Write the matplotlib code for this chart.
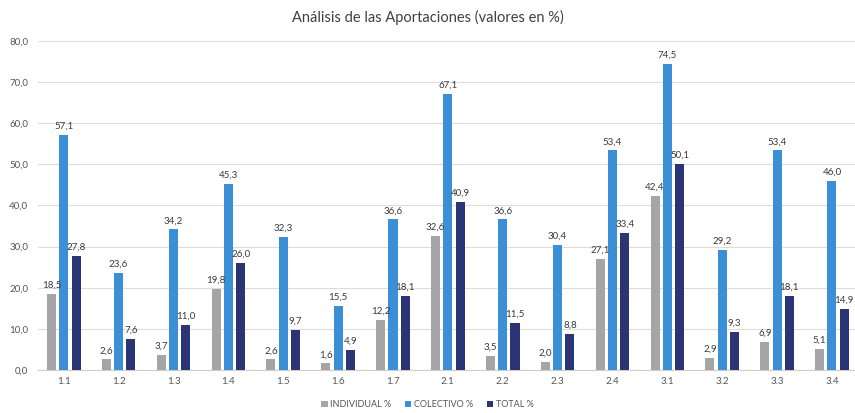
import numpy as np
import matplotlib.pyplot as plt

categorias = ["1.1", "1.2", "1.3", "1.4", "1.5", "1.6", "1.7", "2.1", "2.2", "2.3",
              "2.4", "3.1", "3.2", "3.3", "3.4"]
individual = [18.5, 2.6, 3.7, 19.8, 2.6, 1.6, 12.2, 32.6, 3.5, 2.0, 27.1, 42.4, 2.9, 6.9, 5.1]
colectivo = [57.1, 23.6, 34.2, 45.3, 32.3, 15.5, 36.6, 67.1, 36.6, 30.4, 53.4, 74.5, 29.2, 53.4, 46.0]
total = [27.8, 7.6, 11.0, 26.0, 9.7, 4.9, 18.1, 40.9, 11.5, 8.8, 33.4, 50.1, 9.3, 18.1, 14.9]

series = [("INDIVIDUAL %", individual, "#A5A5A5"),
          ("COLECTIVO %", colectivo, "#3A8FD6"),
          ("TOTAL %", total, "#2B3575")]

plt.rcParams['font.family'] = ['Lato', 'DejaVu Sans']

fig = plt.figure(figsize=(8.55, 4.13), dpi=100)
ax = fig.add_axes([0.0444, 0.104, 0.9556, 0.797])

x = np.arange(len(categorias))
ancho = 0.165
paso = 0.224
for i, (nombre, vals, color) in enumerate(series):
    pos = x + (i - 1) * paso
    ax.bar(pos, vals, width=ancho, color=color, label=nombre, zorder=3)
    for px, v in zip(pos, vals):
        ax.text(px, v + 1.0, f"{v:.1f}".replace(".", ","), ha="center", va="bottom",
                fontsize=7, color="#3A3A3A", zorder=4)

ax.set_ylim(0, 80)
ax.set_xlim(-0.47, len(categorias) - 1 + 0.42)
ax.set_yticks(np.arange(0, 81, 10))
ax.set_yticklabels([f"{t:.1f}".replace(".", ",") for t in np.arange(0, 81, 10)])
ax.set_xticks(x)
ax.set_xticklabels(categorias)
ax.tick_params(axis="both", length=0, labelsize=7, colors="#555555")
ax.tick_params(axis="y", pad=7)
ax.tick_params(axis="x", pad=5)
ax.grid(axis="y", color="#E3DCD6", linewidth=0.8, zorder=0)
for s in ["top", "right", "left"]:
    ax.spines[s].set_visible(False)
ax.spines["bottom"].set_color("#D0CCC8")

fig.suptitle("Análisis de las Aportaciones (valores en %)", y=0.975, fontsize=10.5, color="#404040")
fig.legend(loc="lower center", bbox_to_anchor=(0.5, -0.01), ncol=3, frameon=False,
           fontsize=6.5, handlelength=0.7, handleheight=0.7, handletextpad=0.3,
           columnspacing=1.5, labelcolor="#555555")

fig.savefig("out.png", dpi=100, facecolor="white")
